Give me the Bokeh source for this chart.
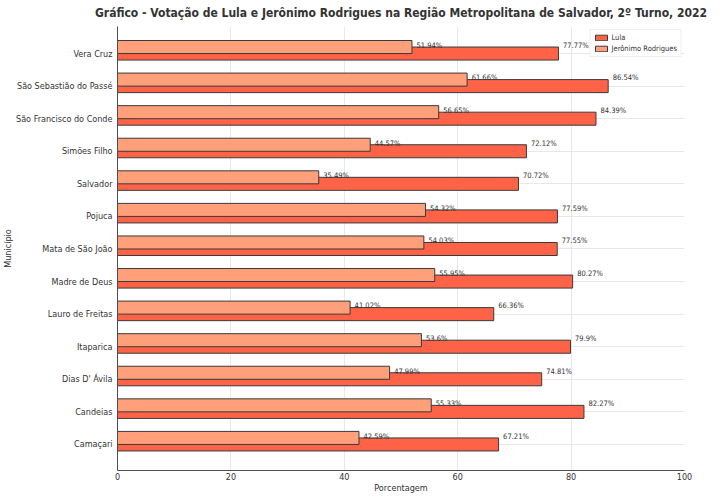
from bokeh.plotting import figure
from bokeh.models import Range1d, FixedTicker, ColumnDataSource, Legend, LegendItem, Title
from bokeh.embed import file_html
from bokeh.resources import INLINE
from bokeh.core.properties import value

municipios = ["Camaçari", "Candeias", "Dias D' Ávila", "Itaparica", "Lauro de Freitas",
              "Madre de Deus", "Mata de São João", "Pojuca", "Salvador", "Simões Filho",
              "São Francisco do Conde", "São Sebastião do Passé", "Vera Cruz"]
lula = [67.21, 82.27, 74.81, 79.9, 66.36, 80.27, 77.55, 77.59, 70.72, 72.12, 84.39, 86.54, 77.77]
jeronimo = [42.59, 55.33, 47.99, 53.6, 41.02, 55.95, 54.03, 54.32, 35.49, 44.57, 56.65, 61.66, 51.94]
x_ticks = [0, 20, 40, 60, 80, 100]
titulo = "Gráfico - Votação de Lula e Jerônimo Rodrigues na Região Metropolitana de Salvador, 2º Turno, 2022"

FONT = "DejaVu Sans Condensed"
TXT = "#333333"

pos = list(range(len(municipios)))
src = ColumnDataSource(dict(
    y=pos,
    y2=[i + 0.2 for i in pos],
    yt=[i + 0.25 for i in pos],
    lula=lula,
    jer=jeronimo,
    lula_x=[v + 0.8 for v in lula],
    jer_x=[v + 0.8 for v in jeronimo],
    lula_lbl=[str(v) + "%" for v in lula],
    jer_lbl=[str(v) + "%" for v in jeronimo],
))

p = figure(frame_width=567, frame_height=444, x_range=Range1d(0, 100), y_range=Range1d(-0.8, 12.83),
           output_backend="svg", toolbar_location=None, title=None,
           min_border_left=110, min_border_right=38, min_border_top=26, min_border_bottom=27)

spacer = Title(text=" ", text_font_size="4px", standoff=0, offset=0)
main_title = Title(text=titulo, align="center", text_font=FONT, text_font_size="12px",
                   text_font_style="bold", text_color=TXT, offset=0, standoff=0)
p.add_layout(spacer, "above")
p.add_layout(main_title, "above")

p.outline_line_color = None
p.background_fill_color = "white"

p.xgrid.ticker = FixedTicker(ticks=x_ticks)
p.ygrid.ticker = FixedTicker(ticks=pos)
p.xgrid.grid_line_color = "#e8e8e8"
p.ygrid.grid_line_color = "#e8e8e8"

r1 = p.hbar(y="y", right="lula", left=0, height=0.4, source=src,
            fill_color="#FF6347", line_color="#3a3a3a", line_width=1)
r2 = p.hbar(y="y2", right="jer", left=0, height=0.4, source=src,
            fill_color="#FFA07A", line_color="#3a3a3a", line_width=1)

p.text(x="lula_x", y="yt", text="lula_lbl", source=src, text_font=value(FONT),
       text_font_size="7.5px", text_baseline="middle", text_color=TXT)
p.text(x="jer_x", y="yt", text="jer_lbl", source=src, text_font=value(FONT),
       text_font_size="7.5px", text_baseline="middle", text_color=TXT)

p.xaxis.ticker = FixedTicker(ticks=x_ticks)
p.yaxis.ticker = FixedTicker(ticks=pos)
p.yaxis.major_label_overrides = {i: m for i, m in enumerate(municipios)}
for ax in (p.xaxis[0], p.yaxis[0]):
    ax.axis_line_color = "#4d4d4d"
    ax.axis_line_width = 1
    ax.major_tick_out = 0
    ax.major_tick_in = 0
    ax.minor_tick_out = 0
    ax.minor_tick_in = 0
    ax.major_label_text_font = FONT
    ax.major_label_text_font_size = "9px"
    ax.major_label_text_color = TXT
    ax.axis_label_text_font = FONT
    ax.axis_label_text_font_size = "9px"
    ax.axis_label_text_font_style = "normal"
    ax.axis_label_text_color = TXT
p.xaxis.axis_label = "Porcentagem"
p.yaxis.axis_label = "Município"
p.xaxis.major_label_standoff = 2
p.xaxis.axis_label_standoff = 0
p.yaxis.major_label_standoff = 5
p.yaxis.axis_label_standoff = 0

legend = Legend(items=[LegendItem(label="Lula", renderers=[r1]),
                       LegendItem(label="Jerônimo Rodrigues", renderers=[r2])],
                location="top_right")
legend.label_text_font = FONT
legend.label_text_font_size = "7.5px"
legend.label_text_color = TXT
legend.glyph_width = 15
legend.glyph_height = 7
legend.label_height = 9
legend.label_standoff = 3
legend.spacing = 2
legend.padding = 3
legend.margin = 3
legend.border_line_color = "#dddddd"
legend.background_fill_alpha = 0.9
p.add_layout(legend)

open("out.html", "w").write(file_html(p, INLINE))
